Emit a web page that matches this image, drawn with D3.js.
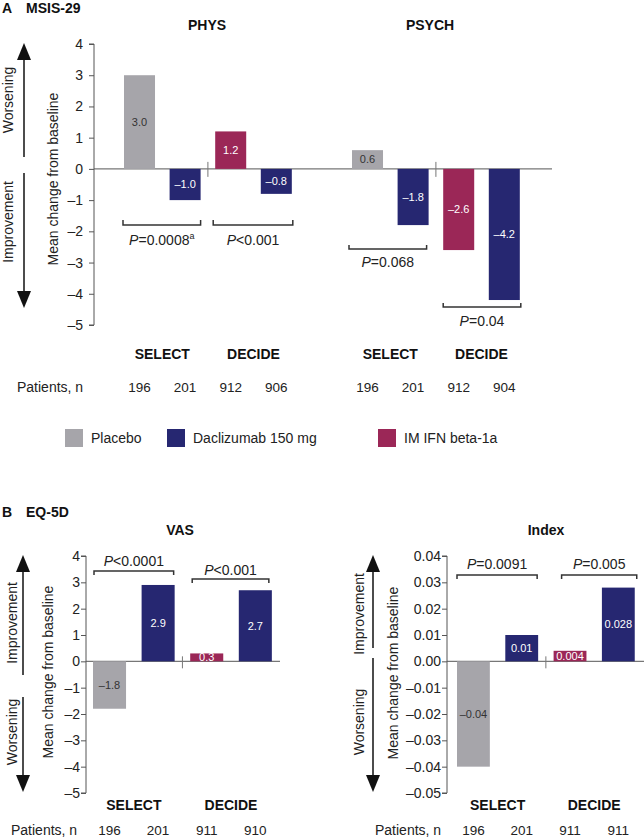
<!DOCTYPE html>
<html><head><meta charset="utf-8">
<script src="https://cdn.jsdelivr.net/npm/d3@7"></script>
<style>
body{margin:0;background:#fff;}
svg{font-family:"Liberation Sans",Arial,sans-serif;}
</style></head>
<body><svg id="c" width="644" height="837"></svg>
<script>
// ---- data ----
const groups = ["SELECT", "SELECT", "DECIDE", "DECIDE"];
const treatments = ["Placebo", "Daclizumab 150 mg", "IM IFN beta-1a", "Daclizumab 150 mg"];
const legendItems = ["Placebo", "Daclizumab 150 mg", "IM IFN beta-1a"];
const physValues = [3.0, -1.0, 1.2, -0.8];
const psychValues = [0.6, -1.8, -2.6, -4.2];
const vasValues = [-1.8, 2.9, 0.3, 2.7];
const indexValues = [-0.04, 0.01, 0.004, 0.028];
const physN = [196, 201, 912, 906];
const psychN = [196, 201, 912, 904];
const vasN = [196, 201, 911, 910];
const indexN = [196, 201, 911, 911];
const physP = ["=0.0008", "<0.001"];
const psychP = ["=0.068", "=0.04"];
const vasP = ["<0.0001", "<0.001"];
const indexP = ["=0.0091", "=0.005"];
const msisTicks = [4, 3, 2, 1, 0, -1, -2, -3, -4, -5];
const vasTicks = [4, 3, 2, 1, 0, -1, -2, -3, -4, -5];
const indexTicks = [0.04, 0.03, 0.02, 0.01, 0, -0.01, -0.02, -0.03, -0.04, -0.05];

const color = d3.scaleOrdinal().domain(legendItems).range(["#a6a5aa", "#262771", "#9b2757"]);
const loc = d3.formatLocale({decimal: ".", thousands: ",", grouping: [3], currency: ["$", ""], minus: "\u2013"});

const svg = d3.select("#c");
const FONT = 14;

function arrow(g, x, y1, y2, dir) {
  // dir: "up" -> tip at y1 ; "down" -> tip at y2
  const hw = 7, hh = 17;
  if (dir === "up") {
    g.append("line").attr("x1", x).attr("x2", x).attr("y1", y1 + hh - 1).attr("y2", y2).attr("stroke", "#111").attr("stroke-width", 1.5);
    g.append("path").attr("d", `M${x},${y1}L${x - hw},${y1 + hh}L${x + hw},${y1 + hh}Z`).attr("fill", "#111");
  } else {
    g.append("line").attr("x1", x).attr("x2", x).attr("y1", y1).attr("y2", y2 - hh + 1).attr("stroke", "#111").attr("stroke-width", 1.5);
    g.append("path").attr("d", `M${x},${y2}L${x - hw},${y2 - hh}L${x + hw},${y2 - hh}Z`).attr("fill", "#111");
  }
}
function vtext(x, y, t, size) {
  svg.append("text").attr("transform", `translate(${x},${y}) rotate(-90)`)
    .attr("text-anchor", "middle").attr("dominant-baseline", "central")
    .attr("font-size", size || FONT).attr("fill", "#222").text(t);
}
function bracket(x1, x2, yLine, yTick, label, ly) {
  svg.append("path").attr("d", `M${x1},${yTick}V${yLine}H${x2}V${yTick}`)
    .attr("fill", "none").attr("stroke", "#333").attr("stroke-width", 1.5);
  const t = svg.append("text").attr("x", (x1 + x2) / 2).attr("y", ly).attr("text-anchor", "middle")
    .attr("font-size", FONT).attr("fill", "#222");
  t.append("tspan").attr("font-style", "italic").text("P");
  t.append("tspan").text(label.main);
  if (label.sup) t.append("tspan").attr("font-size", 9).attr("dy", -6).text(label.sup);
}

function bars(x, y, values, fmt, nums, cfg) {
  const g = svg.append("g");
  g.selectAll("rect").data(values).join("rect")
    .attr("x", (d, i) => x(i)).attr("width", x.bandwidth())
    .attr("y", d => y(Math.max(0, d))).attr("height", d => Math.abs(y(d) - y(0)))
    .attr("fill", (d, i) => color(treatments[i]));
  g.selectAll("text.v").data(values).join("text").attr("class", "v")
    .attr("x", (d, i) => x(i) + x.bandwidth() / 2)
    .attr("y", d => (y(d) + y(0)) / 2).attr("dy", "0.36em")
    .attr("text-anchor", "middle").attr("font-size", 11)
    .attr("fill", (d, i) => i === 0 ? "#333" : "#fff")
    .text(d => fmt(d));
  // group labels
  const gx = (a, b) => (x(a) + x(b) + x.bandwidth()) / 2;
  [[0, 1], [2, 3]].forEach(([a, b]) => {
    svg.append("text").attr("x", gx(a, b)).attr("y", cfg.groupY).attr("text-anchor", "middle")
      .attr("font-size", FONT).attr("font-weight", "bold").attr("fill", "#111").text(groups[a]);
  });
  svg.append("g").selectAll("text").data(nums).join("text")
    .attr("x", (d, i) => x(i) + x.bandwidth() / 2).attr("y", cfg.nY)
    .attr("text-anchor", "middle").attr("font-size", 13.5).attr("fill", "#222").text(d => d);
  // separator
  const sx = (x(1) + x.bandwidth() + x(2)) / 2;
  svg.append("line").attr("x1", sx).attr("x2", sx).attr("y1", y(0) - cfg.sepUp).attr("y2", y(0) + cfg.sepDown)
    .attr("stroke", "#777").attr("stroke-width", 1);
}

function yAxis(y, ax, ticks, fmt, pad) {
  const g = svg.append("g").attr("transform", `translate(${ax},0)`)
    .call(d3.axisLeft(y).tickValues(ticks).tickFormat(fmt).tickSize(5).tickPadding(pad));
  g.select(".domain").attr("stroke", "#555").attr("d", `M-5,${y(ticks[0])}H0V${y(ticks[ticks.length - 1])}H-5`);
  g.selectAll(".tick line").attr("stroke", "#555");
  g.selectAll(".tick text").attr("font-size", FONT).attr("fill", "#222").attr("font-family", "Liberation Sans, Arial, sans-serif");
}
function baseline(y, x1, x2) {
  svg.append("line").attr("x1", x1).attr("x2", x2).attr("y1", y(0)).attr("y2", y(0)).attr("stroke", "#777").attr("stroke-width", 1.2);
}
function header(letter, name, y) {
  const t = svg.append("text").attr("x", 2).attr("y", y).attr("font-size", FONT).attr("font-weight", "bold").attr("fill", "#111");
  t.append("tspan").text(letter);
  t.append("tspan").attr("x", 26).text(name);
}
function title(x, y, t) {
  svg.append("text").attr("x", x).attr("y", y).attr("text-anchor", "middle").attr("font-size", FONT)
    .attr("font-weight", "bold").attr("fill", "#111").text(t);
}

// ---------------- Panel A ----------------
header("A", "MSIS-29", 13);
const yA = d3.scaleLinear().domain([-5, 4]).range([325, 44]);
const fA = loc.format(".1f");
const xPhys = d3.scaleBand().domain(d3.range(4)).range([124, 124 + 45.6 * 3.68]).paddingInner(0.32).paddingOuter(0);
const xPsych = d3.scaleBand().domain(d3.range(4)).range([352, 352 + 45.6 * 3.68]).paddingInner(0.32).paddingOuter(0);
title(207, 30, "PHYS");
title(430, 30, "PSYCH");
baseline(yA, 94, 552);
bars(xPhys, yA, physValues, fA, physN, {groupY: 359, nY: 392, sepUp: 7, sepDown: 8});
bars(xPsych, yA, psychValues, fA, psychN, {groupY: 359, nY: 392, sepUp: 7, sepDown: 8});
yAxis(yA, 94, msisTicks, loc.format("d"), 6);
vtext(53, 179, "Mean change from baseline");
arrow(svg, 24, 43, 157, "up");
arrow(svg, 24, 173, 308, "down");
vtext(8, 100, "Worsening");
vtext(8, 222, "Improvement");
bracket(xPhys(0) - 1, xPhys(1) + xPhys.bandwidth(), 225, 220, {main: physP[0], sup: "a"}, 245);
bracket(xPhys(2) - 2, xPhys(3) + xPhys.bandwidth() + 1, 225, 220, {main: physP[1]}, 245);
bracket(xPsych(0) - 3, xPsych(1) + xPsych.bandwidth() - 2, 249, 245, {main: psychP[0]}, 267);
bracket(xPsych(2), xPsych(3) + xPsych.bandwidth() + 1, 307, 303, {main: psychP[1]}, 326);
svg.append("text").attr("x", 17).attr("y", 392).attr("font-size", FONT).attr("fill", "#222").text("Patients, n");

// legend
const legX = [65, 167, 378];
const lg = svg.append("g").selectAll("g").data(legendItems).join("g")
  .attr("transform", (d, i) => `translate(${legX[i]},429)`);
lg.append("rect").attr("width", 18).attr("height", 18).attr("fill", d => color(d));
lg.append("text").attr("x", 26).attr("y", 14).attr("font-size", FONT).attr("fill", "#222").text(d => d);

// ---------------- Panel B ----------------
header("B", "EQ-5D", 517);
title(180, 535, "VAS");
title(546, 535, "Index");
const yV = d3.scaleLinear().domain([-5, 4]).range([793, 556]);
const yI = d3.scaleLinear().domain([-0.05, 0.04]).range([793, 556]);
const xV = d3.scaleBand().domain(d3.range(4)).range([93, 93 + 48.6 * 3.68]).paddingInner(0.32).paddingOuter(0);
const xI = d3.scaleBand().domain(d3.range(4)).range([457, 457 + 48.3 * 3.68]).paddingInner(0.32).paddingOuter(0);
baseline(yV, 86, 280);
baseline(yI, 447, 644);
bars(xV, yV, vasValues, loc.format(".1f"), vasN, {groupY: 810, nY: 835, sepUp: 5, sepDown: 7});
const fIdx = d => (d === 0.01 ? "0.01" : d === -0.04 ? "\u20130.04" : loc.format(".3f")(d));
bars(xI, yI, indexValues, fIdx, indexN, {groupY: 810, nY: 835, sepUp: 5, sepDown: 7});
yAxis(yV, 86, vasTicks, loc.format("d"), 1);
yAxis(yI, 447, indexTicks, loc.format(".2f"), 1);
vtext(48, 672, "Mean change from baseline");
vtext(393, 673, "Mean change from baseline");
arrow(svg, 23, 555, 675, "up");
arrow(svg, 23, 697, 792, "down");
vtext(12, 623, "Improvement");
vtext(12, 732, "Worsening");
arrow(svg, 373, 555, 648, "up");
arrow(svg, 373, 658, 792, "down");
vtext(359, 614, "Improvement");
vtext(359, 722, "Worsening");
bracket(xV(0) + 1, xV(1) + xV.bandwidth() - 1, 571, 575, {main: vasP[0]}, 566);
bracket(xV(2) + 2, xV(3) + xV.bandwidth() - 3, 579, 583, {main: vasP[1]}, 575);
bracket(xI(0), xI(1) + xI.bandwidth() - 1, 575, 579, {main: indexP[0]}, 569);
bracket(xI(2) + 8, xI(3) + xI.bandwidth() + 2, 575, 579, {main: indexP[1]}, 569);
svg.append("text").attr("x", 11).attr("y", 835).attr("font-size", FONT).attr("fill", "#222").text("Patients, n");
svg.append("text").attr("x", 375).attr("y", 835).attr("font-size", FONT).attr("fill", "#222").text("Patients, n");
</script></body></html>
